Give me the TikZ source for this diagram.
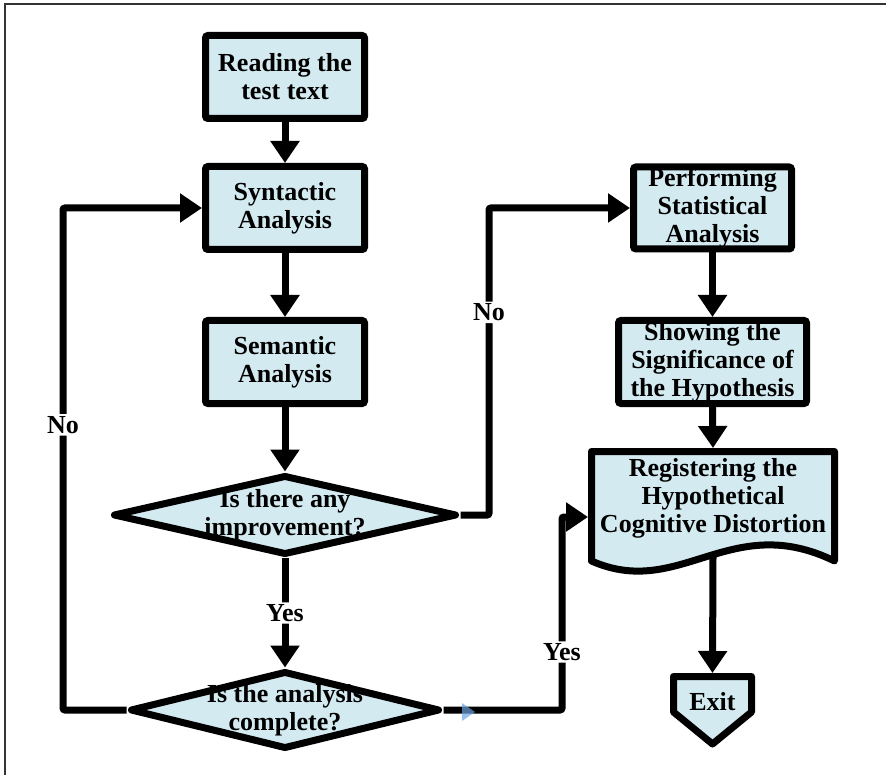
\documentclass[tikz,border=0pt]{standalone}
\usepackage{fontspec}
\setmainfont{Liberation Serif}
\usetikzlibrary{arrows.meta,shapes.geometric,calc}
\definecolor{boxfill}{RGB}{211,234,240}
\definecolor{glitch}{RGB}{110,165,225}
\begin{document}
\begin{tikzpicture}[x=1pt,y=-1pt,
  font=\fontsize{26}{28}\selectfont\bfseries,
  box/.style={draw, line width=7pt, fill=boxfill, rounded corners=2.5pt, inner sep=0pt, align=center},
  dia/.style={diamond, draw, line width=7pt, fill=boxfill, inner sep=0pt, line join=round},
  shapeline/.style={draw, line width=7pt, fill=boxfill, line join=round},
  ghost/.style={inner sep=0pt, outer sep=0pt, align=center},
  txt/.style={align=center, inner sep=0pt},
  conn/.style={line width=7pt, rounded corners=2pt, -{Triangle[width=28pt,length=22pt]}},
  lbl/.style={fill=white, inner sep=2pt}]
\useasboundingbox (0,0) rectangle (886,775);
% frame
\draw[line width=1.5pt, black!80] (5,775) -- (5,4) -- (886,4);
% special shapes
\path[shapeline] (591.5,451.5) -- (834.5,451.5) -- (834.5,561)
  .. controls (730,510) and (680,600) .. (591.5,561) -- cycle;
\path[shapeline] (673.5,676.5) -- (751.5,676.5) -- (751.5,712) -- (712.5,744) -- (673.5,712) -- cycle;
% nodes
\node[box, minimum width=159pt, minimum height=83pt] (read) at (285,77) {Reading the\\test text};
\node[box, minimum width=159pt, minimum height=83pt] (syn) at (285,208) {Syntactic\\Analysis};
\node[box, minimum width=159pt, minimum height=83pt] (sem) at (285,362) {Semantic\\Analysis};
\node[dia, minimum width=344pt, minimum height=80pt] (d1) at (285,515) {};
\node[txt] (d1t) at (d1.center) {Is there any\\improvement?};
\node[dia, minimum width=310pt, minimum height=78pt] (d2) at (285,710) {};
\node[txt] (d2t) at (d2.center) {Is the analysis\\complete?};
\node[box, minimum width=158pt, minimum height=82pt] (perf) at (712.5,208) {Performing\\Statistical\\Analysis};
\node[box, minimum width=188pt, minimum height=83pt] (show) at (712.5,362) {Showing the\\Significance of\\the Hypothesis};
\node[ghost, minimum width=250pt, minimum height=109pt] (reg) at (713,502.5) {};
\node[txt] (regt) at (713,498) {Registering the\\Hypothetical\\Cognitive Distortion};
\node[ghost, minimum width=85pt, minimum height=58pt] (exit) at (712.5,702) {Exit};
\coordinate (regb) at (713,557);
\coordinate (lc) at (63,710);
\coordinate (rc) at (489,515);
\coordinate (yc) at (562,710);
% connectors
\draw[conn] (read) -- (syn);
\draw[conn] (syn) -- (sem);
\draw[conn] (sem) -- (d1);
\draw[conn] (d1) -- node[lbl] {Yes} (d2);
\draw[conn] (d2.west) -- (lc) |- node[lbl, pos=0.284] {No} (syn.west);
\draw[conn] (d1.east) -- (rc) |- node[lbl, pos=0.33] {No} (perf.west);
\draw[conn] (perf) -- (show);
\draw[conn] (show.south) -- (reg.north);
\draw[conn] (d2.east) -- (yc) |- node[lbl, pos=0.15] {Yes} ([yshift=-14.5pt]reg.west);
\draw[conn] (regb) -- (exit.north);
\fill[glitch, opacity=0.7] (462,703) -- (475,712) -- (462,721) -- cycle;
\end{tikzpicture}
\end{document}
